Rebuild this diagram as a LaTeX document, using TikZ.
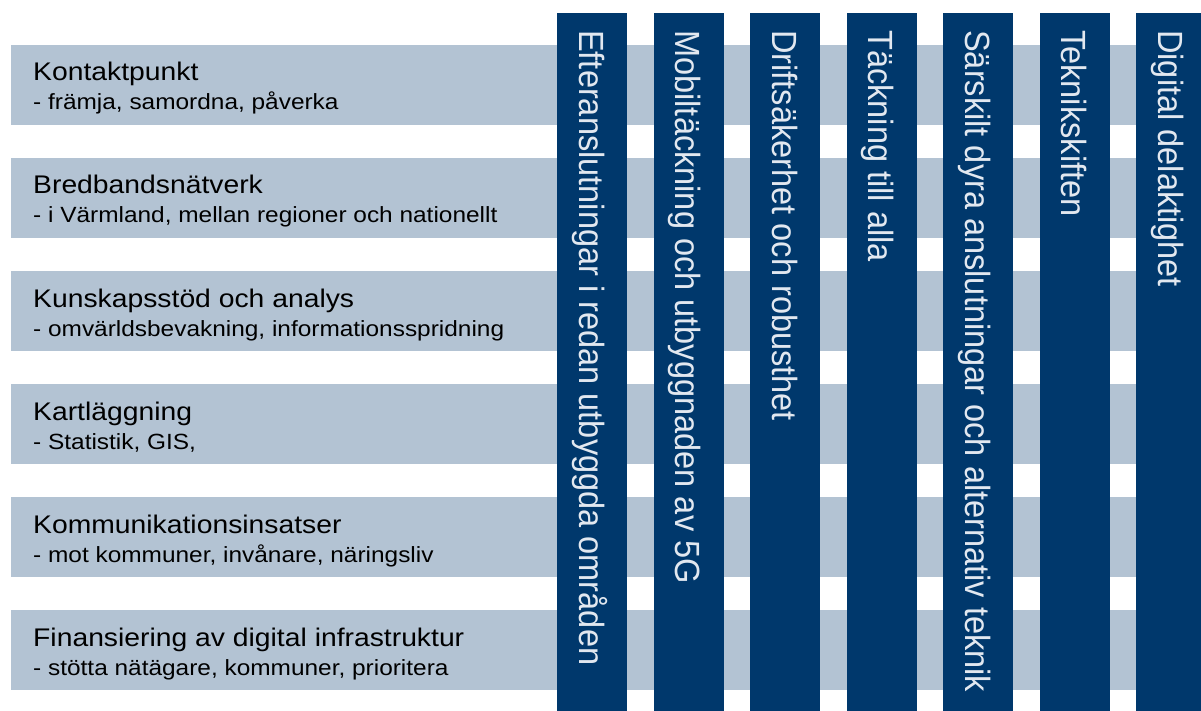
\documentclass[tikz,border=0pt]{standalone}
\usepackage{fontspec}
\setmainfont{Liberation Sans}
\newfontfamily\colfont[FakeStretch=0.93]{Liberation Sans}
\newfontfamily\rowfont[FakeStretch=1.11]{Liberation Sans}
\usepackage{xcolor}
\usepackage{tikz}
\usetikzlibrary{positioning}

\definecolor{bandgrey}{HTML}{B3C3D3}
\definecolor{colblue}{HTML}{00386C}
\definecolor{coltext}{HTML}{E2E8F0}

\begin{document}
\begin{tikzpicture}[x=1pt, y=-1pt,
    band/.style={fill=bandgrey},
    pillar/.style={fill=colblue},
    title/.style={anchor=base west, inner sep=0pt, font=\rowfont\fontsize{25.5}{30}\selectfont},
    sub/.style={anchor=base west, inner sep=0pt, font=\rowfont\fontsize{22}{26}\selectfont},
    vlabel/.style={rotate=-90, anchor=base west, inner sep=0pt, text=coltext,
        font=\colfont\fontsize{35}{40}\selectfont}]
        \useasboundingbox (0,0) rectangle (1201,711);

        % Horizontal bands with activity texts
        \foreach \t/\a/\b [count=\i] in {
            45/{Kontaktpunkt}/{- främja, samordna, påverka},
            158/{Bredbandsnätverk}/{- i Värmland, mellan regioner och nationellt},
            271/{Kunskapsstöd och analys}/{- omvärldsbevakning, informationsspridning},
            384/{Kartläggning}/{- Statistik, GIS,},
            497/{Kommunikationsinsatser}/{- mot kommuner, invånare, näringsliv},
            610/{Finansiering av digital infrastruktur}/{- stötta nätägare, kommuner, prioritera}} {
            \fill[band] (11,\t) rectangle (1201,\t+80);
            \node[title] (t\i) at (33,\t+36) {\a};
            \node[sub] (s\i) at (33,\t+65) {\b};
        }

        % Vertical focus areas
        \foreach \a [count=\i] in {
            {Efteranslutningar i redan utbyggda områden},
            {Mobiltäckning och utbyggnaden av 5G},
            {Driftsäkerhet och robusthet},
            {Täckning till alla},
            {Särskilt dyra anslutningar och alternativ teknik},
            {Teknikskiften},
            {Digital delaktighet}} {
            \pgfmathsetmacro{\l}{557+96.5*(\i-1)}
            \fill[pillar] (\l,13) rectangle (\l+70,711);
            \node[vlabel] (c\i) at (\l+22,30) {\a};
        }
    \end{tikzpicture}
\end{document}
